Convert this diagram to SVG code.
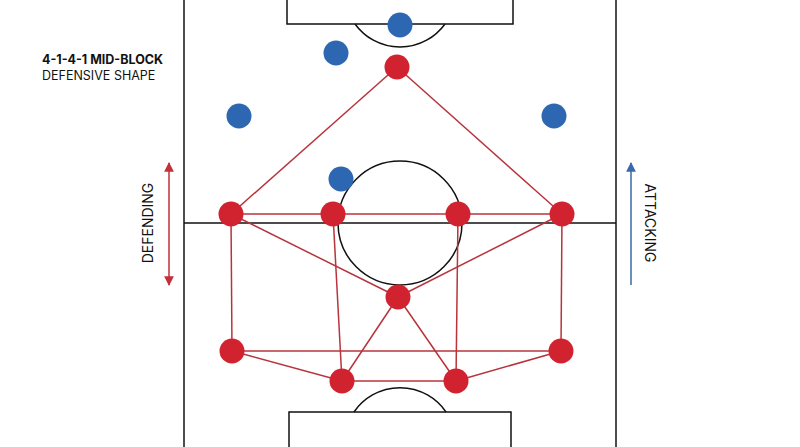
<svg xmlns="http://www.w3.org/2000/svg" width="800" height="447" viewBox="0 0 800 447">
<defs>
<style>
.pitch{fill:none;stroke:#111;stroke-width:1.5}
.link{stroke:#b8343c;stroke-width:1.5;fill:none}
.red{fill:#d1232f}
.blue{fill:#2e67b1}
.lbl{font-family:Inter,"Liberation Sans",sans-serif;font-size:14px;fill:#111}
.ttl{font-family:Inter,"Liberation Sans",sans-serif;font-size:12.5px;fill:#111}
</style>
<marker id="ar" viewBox="0 0 10 10" refX="9" refY="5" markerWidth="6.5" markerHeight="6.5" orient="auto-start-reverse"><path d="M0,0 L10,5 L0,10 z" fill="#c2303a"/></marker>
<marker id="ab" viewBox="0 0 10 10" refX="9" refY="5" markerWidth="6.5" markerHeight="6.5" orient="auto"><path d="M0,0 L10,5 L0,10 z" fill="#3a68ad"/></marker>
</defs>
<rect width="800" height="447" fill="#fff"/>
<g id="pitch">
<line class="pitch" x1="184" y1="-2" x2="184" y2="449"/>
<line class="pitch" x1="616" y1="-2" x2="616" y2="449"/>
<line class="pitch" x1="184" y1="223" x2="616" y2="223"/>
<circle class="pitch" cx="400" cy="223" r="62"/>
<path class="pitch" d="M287,-2 V24 H513 V-2"/>
<path class="pitch" d="M355,24 A55.5,55.5 0 0 0 445,24"/>
<path class="pitch" d="M289,449 V412 H511 V449"/>
<path class="pitch" d="M354,412 A55.7,55.7 0 0 1 446,412"/>
</g>
<g id="connectors">
<line class="link" x1="397" y1="67" x2="231" y2="214"/>
<line class="link" x1="397" y1="67" x2="562" y2="214"/>
<line class="link" x1="231" y1="214" x2="562" y2="214"/>
<line class="link" x1="231" y1="214" x2="398" y2="297"/>
<line class="link" x1="562" y1="214" x2="398" y2="297"/>
<line class="link" x1="231" y1="214" x2="232" y2="351"/>
<line class="link" x1="333" y1="214" x2="342" y2="381"/>
<line class="link" x1="458" y1="214" x2="456" y2="381"/>
<line class="link" x1="562" y1="214" x2="561" y2="351"/>
<line class="link" x1="232" y1="351" x2="561" y2="351"/>
<line class="link" x1="232" y1="351" x2="342" y2="381"/>
<line class="link" x1="342" y1="381" x2="456" y2="381"/>
<line class="link" x1="456" y1="381" x2="561" y2="351"/>
<line class="link" x1="398" y1="297" x2="342" y2="381"/>
<line class="link" x1="398" y1="297" x2="456" y2="381"/>
</g>
<g id="blue-players">
<circle class="blue" cx="400" cy="25" r="12.5"/>
<circle class="blue" cx="336" cy="53" r="12.5"/>
<circle class="blue" cx="239" cy="116" r="12.5"/>
<circle class="blue" cx="554" cy="116" r="12.5"/>
<circle class="blue" cx="341" cy="179" r="12.5"/>
</g>
<g id="st"><circle class="red" cx="397" cy="67" r="12.5"/></g>
<g id="lm"><circle class="red" cx="231" cy="214" r="12.5"/></g>
<g id="lcm"><circle class="red" cx="333" cy="214" r="12.5"/></g>
<g id="rcm"><circle class="red" cx="458" cy="214" r="12.5"/></g>
<g id="rm"><circle class="red" cx="562" cy="214" r="12.5"/></g>
<g id="dm"><circle class="red" cx="398" cy="297" r="12.5"/></g>
<g id="lb"><circle class="red" cx="232" cy="351" r="12.5"/></g>
<g id="lcb"><circle class="red" cx="342" cy="381" r="12.5"/></g>
<g id="rcb"><circle class="red" cx="456" cy="381" r="12.5"/></g>
<g id="rb"><circle class="red" cx="561" cy="351" r="12.5"/></g>
<g id="title">
<text class="ttl" x="42" y="64" font-weight="bold">4-1-4-1 MID-BLOCK</text>
<text class="ttl" x="42" y="80">DEFENSIVE SHAPE</text>
</g>
<g id="defending">
<line x1="169" y1="224" x2="169" y2="163" stroke="#c2303a" stroke-width="1.5" marker-end="url(#ar)"/>
<line x1="169" y1="224" x2="169" y2="285" stroke="#c2303a" stroke-width="1.5" marker-end="url(#ar)"/>
<text class="lbl" transform="translate(153,223) rotate(-90)" text-anchor="middle">DEFENDING</text>
</g>
<g id="attacking">
<line x1="631" y1="285" x2="631" y2="163" stroke="#3a68ad" stroke-width="1.5" marker-end="url(#ab)"/>
<text class="lbl" transform="translate(645,223) rotate(90)" text-anchor="middle">ATTACKING</text>
</g>
</svg>
